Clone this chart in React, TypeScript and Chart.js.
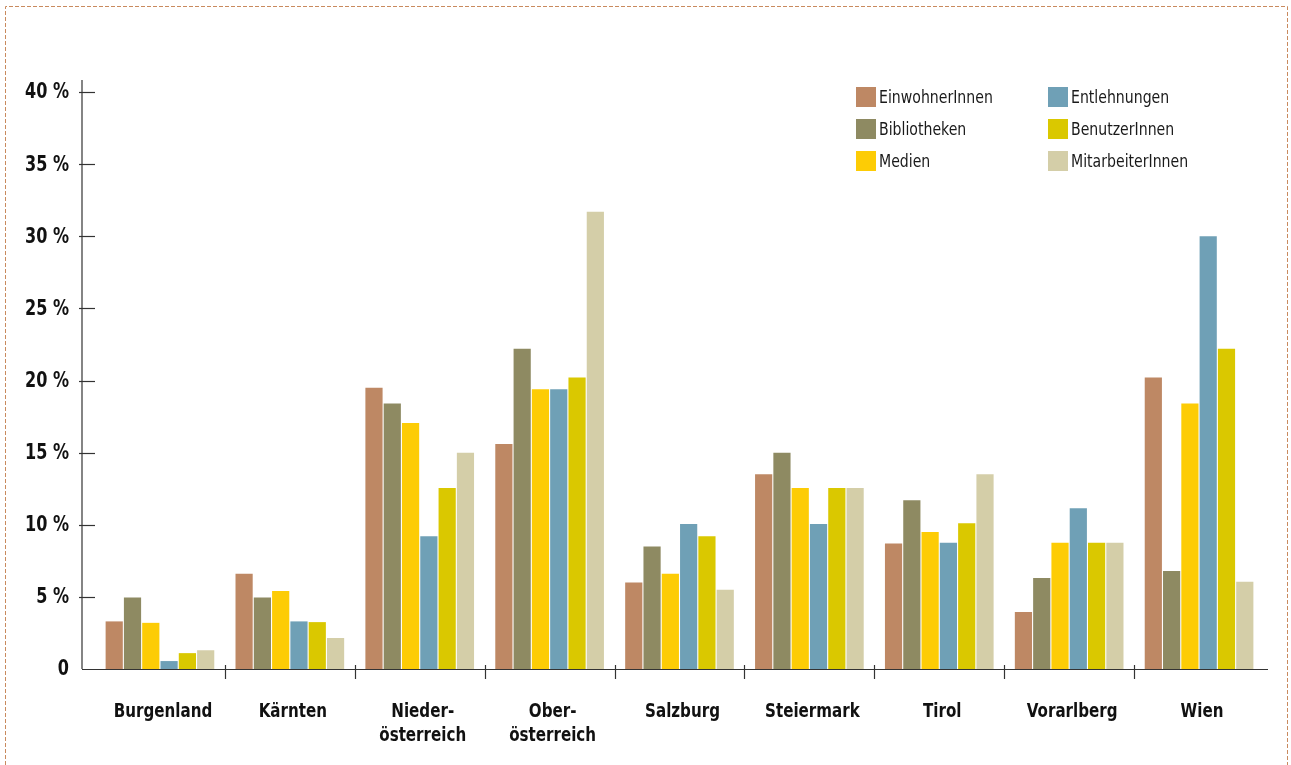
import React, { useEffect, useRef } from 'react';
import { Chart, registerables } from 'chart.js';

Chart.register(...registerables);

const categories: string[][] = [
  ['Burgenland'],
  ['Kärnten'],
  ['Nieder-', 'österreich'],
  ['Ober-', 'österreich'],
  ['Salzburg'],
  ['Steiermark'],
  ['Tirol'],
  ['Vorarlberg'],
  ['Wien'],
];

const einwohner = [3.3, 6.6, 19.5, 15.6, 6.0, 13.5, 8.7, 3.95, 20.2];
const bibliotheken = [4.95, 4.95, 18.4, 22.2, 8.5, 15.0, 11.7, 6.3, 6.8];
const medien = [3.2, 5.4, 17.05, 19.4, 6.6, 12.55, 9.5, 8.75, 18.4];
const entlehnungen = [0.55, 3.3, 9.2, 19.4, 10.05, 10.05, 8.75, 11.15, 30.0];
const benutzer = [1.1, 3.25, 12.55, 20.2, 9.2, 12.55, 10.1, 8.75, 22.2];
const mitarbeiter = [1.3, 2.15, 15.0, 31.7, 5.5, 12.55, 13.5, 8.75, 6.05];

const seriesNames = ['EinwohnerInnen', 'Bibliotheken', 'Medien', 'Entlehnungen', 'BenutzerInnen', 'MitarbeiterInnen'];
const seriesColors = ['#BE8864', '#8E8A62', '#FDCC05', '#6FA0B6', '#DAC800', '#D4CEA8'];
const seriesValues = [einwohner, bibliotheken, medien, entlehnungen, benutzer, mitarbeiter];

const yTicks = [0, 5, 10, 15, 20, 25, 30, 35, 40];
const yTickLabels = ['0', '5 %', '10 %', '15 %', '20 %', '25 %', '30 %', '35 %', '40 %'];

const FONT = '"Liberation Sans Narrow", "DejaVu Sans Condensed", "Roboto", sans-serif';

function narrowText(ctx: any, text: string, x: number, y: number, sx: number) {
  ctx.save();
  ctx.translate(x, y);
  ctx.scale(sx, 1);
  ctx.fillText(text, 0, 0);
  ctx.restore();
}

const decorPlugin = {
  id: 'decor',
  beforeDraw(chart: any) {
    const ctx = chart.ctx;
    ctx.save();
    ctx.strokeStyle = '#C98A5E';
    ctx.lineWidth = 1;
    ctx.setLineDash([4, 2]);
    ctx.beginPath();
    ctx.moveTo(5.5, 765);
    ctx.lineTo(5.5, 6.5);
    ctx.lineTo(1287.5, 6.5);
    ctx.lineTo(1287.5, 765);
    ctx.stroke();
    ctx.restore();
  },
  afterDraw(chart: any) {
    const ctx = chart.ctx;
    const area = chart.chartArea;
    const xs = chart.scales.x;
    const ys = chart.scales.y;
    const axisX = area.left - 13;
    ctx.save();
    ctx.strokeStyle = '#333';
    ctx.lineWidth = 1.2;
    // y axis
    ctx.beginPath();
    ctx.moveTo(axisX, area.top - 12);
    ctx.lineTo(axisX, area.bottom);
    ctx.stroke();
    // y ticks + labels
    ctx.fillStyle = '#111';
    ctx.font = `bold 21px ${FONT}`;
    ctx.textAlign = 'right';
    ctx.textBaseline = 'middle';
    yTicks.forEach((v, i) => {
      const yp = ys.getPixelForValue(v);
      if (v !== 0) {
        const y = Math.round(yp) + 0.5;
        ctx.beginPath();
        ctx.moveTo(axisX - 3, y);
        ctx.lineTo(area.left, y);
        ctx.stroke();
      }
      narrowText(ctx, yTickLabels[i], axisX - 13, yp + 1, 0.85);
    });
    // x axis
    const by = Math.round(area.bottom) + 0.5;
    ctx.beginPath();
    ctx.moveTo(axisX, by);
    ctx.lineTo(area.right + 4, by);
    ctx.stroke();
    // category boundary ticks
    for (let i = 0; i < categories.length - 1; i++) {
      const x = Math.round((xs.getPixelForValue(i) + xs.getPixelForValue(i + 1)) / 2) + 0.5;
      ctx.beginPath();
      ctx.moveTo(x, area.bottom - 4);
      ctx.lineTo(x, area.bottom + 10);
      ctx.stroke();
    }
    // x labels
    ctx.font = `bold 20px ${FONT}`;
    ctx.textAlign = 'center';
    categories.forEach((lines, i) => {
      const cx = xs.getPixelForValue(i) + 3;
      lines.forEach((line, j) => {
        narrowText(ctx, line, cx, area.bottom + 43 + j * 24, 0.84);
      });
    });
    // legend (column-major, 3 rows)
    ctx.font = `18px ${FONT}`;
    ctx.textBaseline = 'middle';
    ctx.textAlign = 'left';
    chart.data.datasets.forEach((ds: any, i: number) => {
      const col = Math.floor(i / 3);
      const row = i % 3;
      const bx = 856 + col * 192;
      const byy = 87 + row * 32;
      ctx.fillStyle = ds.backgroundColor;
      ctx.fillRect(bx, byy, 20, 20);
      ctx.fillStyle = '#1a1a1a';
      narrowText(ctx, ds.label, bx + 23, byy + 11, 0.87);
    });
    ctx.restore();
  },
};

export default function App() {
  const canvasRef = useRef<HTMLCanvasElement | null>(null);

  useEffect(() => {
    if (!canvasRef.current) return;
    const chart = new Chart(canvasRef.current, {
      type: 'bar',
      data: {
        labels: categories,
        datasets: seriesNames.map((name, i) => ({
          label: name,
          data: seriesValues[i],
          backgroundColor: seriesColors[i],
          borderWidth: 0,
          barPercentage: 0.94,
          categoryPercentage: 0.845,
        })),
      },
      options: {
        animation: false,
        responsive: true,
        maintainAspectRatio: false,
        layout: { padding: { top: 92, right: 27, left: 0, bottom: 0 } },
        plugins: {
          legend: { display: false },
          tooltip: { enabled: false },
        },
        scales: {
          x: {
            grid: { display: false, drawTicks: false },
            border: { display: false },
            ticks: { display: false },
            afterFit: (s: any) => {
              s.height = 96;
            },
          },
          y: {
            min: 0,
            max: 40,
            grid: { display: false, drawTicks: false },
            border: { display: false },
            ticks: { display: false, stepSize: 5 },
            afterFit: (s: any) => {
              s.width = 95;
            },
          },
        },
      },
      plugins: [decorPlugin],
    });
    return () => chart.destroy();
  }, []);

  return (
    <div style={{ position: 'absolute', left: 0, top: 0, width: 1291, height: 765, background: '#fff' }}>
      <canvas ref={canvasRef} />
    </div>
  );
}
